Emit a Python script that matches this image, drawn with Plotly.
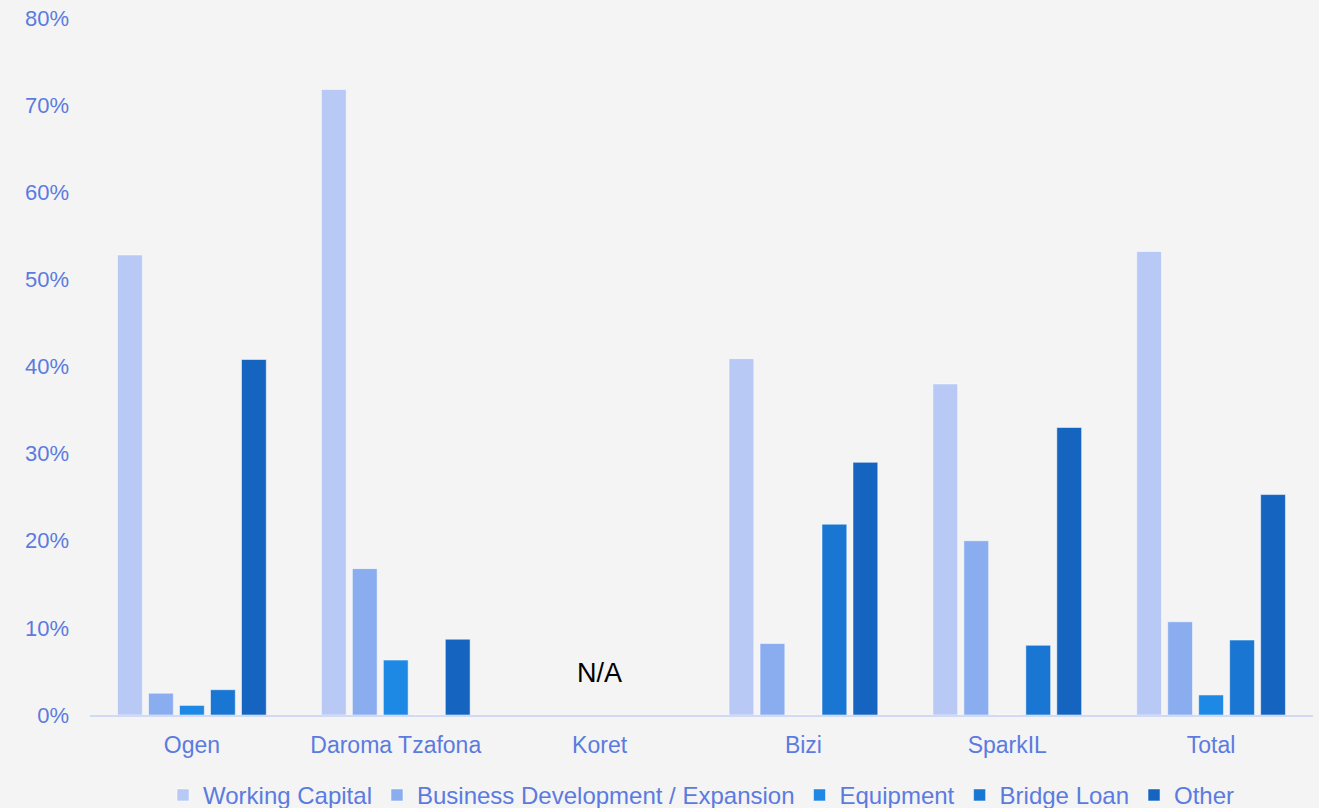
import plotly.graph_objects as go

categories = ["Ogen", "Daroma Tzafona", "Koret", "Bizi", "SparkIL", "Total"]
series_names = ["Working Capital", "Business Development / Expansion", "Equipment", "Bridge Loan", "Other"]
working_capital = [52.8, 71.8, None, 40.9, 38.0, 53.2]
business_dev = [2.5, 16.8, None, 8.2, 20.0, 10.7]
equipment = [1.1, 6.3, None, 0, 0, 2.3]
bridge_loan = [2.9, 0, None, 21.9, 8.0, 8.6]
other = [40.8, 8.7, None, 29.0, 33.0, 25.3]
colors = ["#b7c9f4", "#8aadf0", "#1e88e5", "#1976d2", "#1565c0"]
y_ticks = [0, 10, 20, 30, 40, 50, 60, 70, 80]
y_tick_labels = [f"{v}%" for v in y_ticks]

fig = go.Figure()
for name, vals, col in zip(series_names, [working_capital, business_dev, equipment, bridge_loan, other], colors):
    fig.add_trace(go.Bar(
        x=categories, y=vals, name=name,
        marker=dict(color=col, line=dict(color="rgba(255,255,255,0.5)", width=1)),
    ))

fig.add_annotation(x="Koret", y=0, yref="y", text="N/A", showarrow=False,
                   yshift=42, font=dict(color="#000000", size=27, family="Liberation Sans, Arial"))

text_col = "#5b7be0"
fig.update_layout(
    barmode="group", bargap=0.24, bargroupgap=0.2,
    paper_bgcolor="#f4f4f4", plot_bgcolor="#f4f4f4",
    width=1319, height=808,
    margin=dict(l=90, r=6, t=18, b=93, autoexpand=False),
    font=dict(family="Liberation Sans, Arial", color=text_col, size=22),
    showlegend=True,
    legend=dict(orientation="h", x=0.5, xanchor="center", yref="paper", y=-0.083, yanchor="top",
                font=dict(size=24, color=text_col), itemwidth=30, traceorder="normal"),
    xaxis=dict(showline=True, linecolor="#d0daf5", linewidth=2, tickfont=dict(size=23, color=text_col),
               ticks="", showgrid=False, ticklabelstandoff=8, automargin=False),
    yaxis=dict(range=[0, 80], tickvals=y_ticks, ticktext=y_tick_labels, showgrid=False, zeroline=False,
               tickfont=dict(size=22, color=text_col), ticks="", ticklabelstandoff=20, automargin=False),
)
fig.write_html("out.html")
